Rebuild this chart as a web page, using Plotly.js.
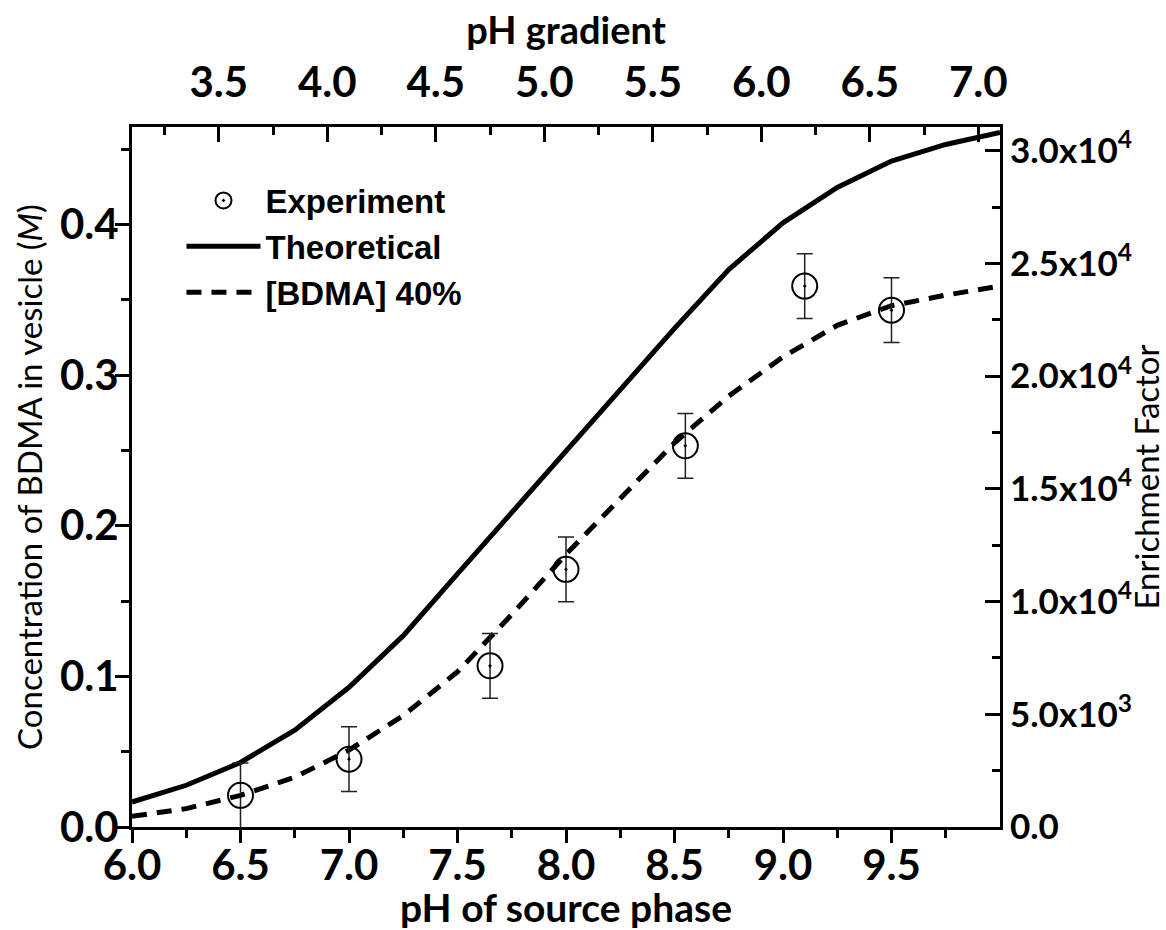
<!DOCTYPE html>
<html>
<head>
<meta charset="utf-8">
<script src="https://cdn.plot.ly/plotly-3.0.1.min.js"></script>
<style>
  html, body { margin: 0; padding: 0; background: #fff; }
  #chart { width: 1166px; height: 930px; }
</style>
</head>
<body>
<div id="chart"></div>
<script>
// ---- data ----
const pHCurve = [6.0, 6.25, 6.5, 6.75, 7.0, 7.25, 7.5, 7.75, 8.0, 8.25, 8.5, 8.75, 9.0, 9.25, 9.5, 9.75, 10.0];
const theoretical = [0.0166, 0.0277, 0.0428, 0.0643, 0.0927, 0.127, 0.168, 0.209, 0.250, 0.291, 0.331, 0.370, 0.401, 0.4245, 0.442, 0.453, 0.461];
const bdma40 = [0.0071, 0.0122, 0.021, 0.033, 0.051, 0.074, 0.103, 0.141, 0.181, 0.218, 0.255, 0.286, 0.312, 0.333, 0.346, 0.353, 0.359];

const pHExp = [6.5, 7.0, 7.65, 8.0, 8.55, 9.1, 9.5];
const concExp = [0.021, 0.045, 0.107, 0.171, 0.253, 0.359, 0.343];
const errExp = [0.0215, 0.0215, 0.0215, 0.0215, 0.0215, 0.0215, 0.0215];

const bottomTicks = [6.0, 6.5, 7.0, 7.5, 8.0, 8.5, 9.0, 9.5];
const bottomMinor = [6.25, 6.75, 7.25, 7.75, 8.25, 8.75, 9.25, 9.75];
const topTicks = [3.5, 4.0, 4.5, 5.0, 5.5, 6.0, 6.5, 7.0];
const topMinor = [3.25, 3.75, 4.25, 4.75, 5.25, 5.75, 6.25, 6.75];
const leftTicks = [0.0, 0.1, 0.2, 0.3, 0.4];
const leftMinor = [0.05, 0.15, 0.25, 0.35, 0.45];
const rightTicks = [0, 5000, 10000, 15000, 20000, 25000, 30000];
const rightTickText = ['0.0', '5.0x10<sup>3</sup>', '1.0x10<sup>4</sup>', '1.5x10<sup>4</sup>', '2.0x10<sup>4</sup>', '2.5x10<sup>4</sup>', '3.0x10<sup>4</sup>'];
const rightMinor = [2500, 7500, 12500, 17500, 22500, 27500];

const yMax = 0.4646;
const efPerConc = 66840;
const topRange = [3.1, 7.1];

const tickFont = { family: 'Lato, "DejaVu Sans", sans-serif', size: 42, color: '#000', weight: 'bold' };

const traces = [
  {
    x: pHCurve, y: theoretical, name: 'Theoretical', type: 'scatter', mode: 'lines',
    line: { color: '#000', width: 5 }, legendrank: 2, hoverinfo: 'skip'
  },
  {
    x: pHCurve, y: bdma40, name: '[BDMA] 40%', type: 'scatter', mode: 'lines',
    line: { color: '#000', width: 5, dash: '15px,10px' }, legendrank: 3, hoverinfo: 'skip'
  },
  {
    x: pHExp, y: concExp, name: 'Experiment', type: 'scatter', mode: 'markers',
    marker: { symbol: 'circle-open-dot', size: 25, color: '#000', line: { width: 2, color: '#000' } },
    error_y: { type: 'data', array: errExp, visible: true, color: '#222', thickness: 1.5, width: 8 },
    legendrank: 1, hoverinfo: 'skip'
  },
  // anchors the top and right axes (invisible)
  {
    x: topRange, y: [0, yMax * efPerConc], xaxis: 'x2', yaxis: 'y2', type: 'scatter', mode: 'markers',
    marker: { opacity: 0 }, showlegend: false, hoverinfo: 'skip'
  }
];

const layout = {
  width: 1166, height: 930,
  margin: { l: 132, r: 166, t: 127, b: 103 },
  paper_bgcolor: '#fff', plot_bgcolor: '#fff',
  showlegend: true,
  legend: {
    x: 0.057, y: 0.935, xanchor: 'left', yanchor: 'top',
    bgcolor: 'rgba(0,0,0,0)', borderwidth: 0,
    font: { family: '"Liberation Sans", Arial, sans-serif', size: 33, color: '#000', weight: 'bold' },
    itemwidth: 74, tracegroupgap: 0
  },
  xaxis: {
    range: [6, 10], side: 'bottom', showgrid: false, zeroline: false,
    showline: true, linecolor: '#000', linewidth: 3,
    tickmode: 'array', tickvals: bottomTicks, tickformat: '.1f',
    ticks: 'outside', ticklen: 13, tickwidth: 3, tickcolor: '#000', ticklabelstandoff: -13,
    minor: { tickmode: 'array', tickvals: bottomMinor, ticks: 'outside', ticklen: 8, tickwidth: 3, tickcolor: '#000', showgrid: false },
    tickfont: tickFont,
    title: { text: 'pH of source phase', font: { family: 'Lato, sans-serif', size: 39, color: '#000', weight: 'bold' }, standoff: 4 }
  },
  xaxis2: {
    range: topRange, overlaying: 'x', side: 'top', anchor: 'y', showgrid: false, zeroline: false,
    showline: true, linecolor: '#000', linewidth: 3,
    tickmode: 'array', tickvals: topTicks, tickformat: '.1f',
    ticks: 'inside', ticklen: 15, tickwidth: 3, tickcolor: '#000', ticklabelstandoff: 10,
    minor: { tickmode: 'array', tickvals: topMinor, ticks: 'inside', ticklen: 8, tickwidth: 3, tickcolor: '#000', showgrid: false },
    tickfont: tickFont,
    title: { text: 'pH gradient', font: { family: 'Lato, sans-serif', size: 38, color: '#000', weight: 'bold' }, standoff: 0 }
  },
  yaxis: {
    range: [0, yMax], showgrid: false, zeroline: false,
    showline: true, linecolor: '#000', linewidth: 3,
    tickmode: 'array', tickvals: leftTicks, tickformat: '.1f',
    ticks: 'outside', ticklen: 14, tickwidth: 3, tickcolor: '#000', ticklabelstandoff: -12,
    minor: { tickmode: 'array', tickvals: leftMinor, ticks: 'outside', ticklen: 8, tickwidth: 3, tickcolor: '#000', showgrid: false },
    tickfont: tickFont,
    title: { text: 'Concentration of BDMA in vesicle (<i>M</i>)', font: { family: 'Lato, sans-serif', size: 33, color: '#000' }, standoff: 8 }
  },
  yaxis2: {
    range: [0, yMax * efPerConc], overlaying: 'y', side: 'right', anchor: 'x', showgrid: false, zeroline: false,
    showline: true, linecolor: '#000', linewidth: 3,
    tickmode: 'array', tickvals: rightTicks, ticktext: rightTickText,
    ticks: 'inside', ticklen: 15, tickwidth: 3, tickcolor: '#000', ticklabelstandoff: 0,
    minor: { tickmode: 'array', tickvals: rightMinor, ticks: 'inside', ticklen: 8, tickwidth: 3, tickcolor: '#000', showgrid: false },
    tickfont: { family: 'Lato, sans-serif', size: 35, color: '#000', weight: 'bold' },
    title: { text: 'Enrichment Factor', font: { family: 'Lato, sans-serif', size: 33, color: '#000' }, standoff: 0 }
  }
};

Plotly.newPlot('chart', traces, layout, { staticPlot: true, displayModeBar: false });
</script>
</body>
</html>
